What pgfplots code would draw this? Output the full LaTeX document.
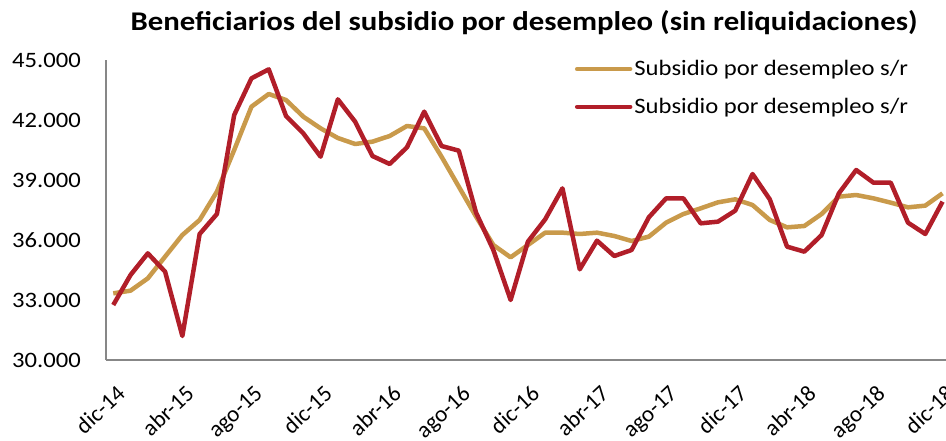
\documentclass[border=0pt]{standalone}
\usepackage{fontspec}
\setmainfont{Carlito}
\newfontfamily\stretched{Carlito}[FakeStretch=1.12]
\newfontfamily\titlefont{Carlito}[FakeStretch=1.14]
\usepackage{pgfplots}
\pgfplotsset{compat=1.18}
\usepackage{pgfplotstable}
\definecolor{goldline}{HTML}{C99A4B}
\definecolor{redline}{HTML}{B11E29}
\definecolor{axgray}{HTML}{878787}
\pgfplotstableread{
i v
0 33333
1 33467
2 34083
3 35167
4 36250
5 37000
6 38417
7 40500
8 42667
9 43300
10 43000
11 42167
12 41583
13 41100
14 40800
15 40917
16 41200
17 41700
18 41583
19 40167
20 38667
21 37167
22 35750
23 35133
24 35750
25 36367
26 36367
27 36300
28 36367
29 36200
30 35950
31 36167
32 36867
33 37300
34 37583
35 37883
36 38033
37 37750
38 37000
39 36633
40 36700
41 37300
42 38167
43 38250
44 38083
45 37867
46 37633
47 37717
48 38333
}\gold
\pgfplotstableread{
i v
0 32750
1 34250
2 35333
3 34417
4 31200
5 36300
6 37300
7 42250
8 44083
9 44533
10 42200
11 41333
12 40167
13 43033
14 41917
15 40200
16 39800
17 40633
18 42417
19 40700
20 40467
21 37367
22 35500
23 33000
24 35917
25 37033
26 38583
27 34533
28 35967
29 35200
30 35500
31 37133
32 38083
33 38083
34 36833
35 36917
36 37467
37 39300
38 38033
39 35667
40 35417
41 36250
42 38333
43 39500
44 38867
45 38867
46 36867
47 36300
48 37917
}\red
\begin{document}
\begin{tikzpicture}
\path[use as bounding box] (-106bp,-81bp) rectangle (840bp,360bp);
\begin{axis}[
  at={(0,0)}, anchor=south west,
  scale only axis,
  width=840bp, height=300bp,
  xmin=-0.42, xmax=48.2,
  ymin=30000, ymax=45000,
  ytick={30000,33000,...,45000},
  xtick={0,4,...,48},
  xticklabels={dic-14,abr-15,ago-15,dic-15,abr-16,ago-16,dic-16,abr-17,ago-17,dic-17,abr-18,ago-18,dic-18},
  scaled y ticks=false,
  yticklabel style={/pgf/number format/1000 sep={.},/pgf/number format/min exponent for 1000 sep=0,/pgf/number format/assume math mode=true},
  y tick label style={font=\stretched\fontsize{22bp}{26bp}\selectfont, inner sep=0pt, anchor=east, xshift=-25bp},
  xticklabel style={font=\fontsize{23bp}{27bp}\selectfont, rotate=43, anchor=north east, inner sep=0pt, xshift=3bp},
  xticklabel shift={26bp},
  major tick length=0pt,
  axis x line*=bottom, axis y line*=left,
  axis line style={axgray, line width=1.5bp, -},
  title={Beneficiarios del subsidio por desempleo (sin reliquidaciones)},
  title style={at={(0.4976,1)}, anchor=center, yshift=31bp, font=\titlefont\bfseries\fontsize{27bp}{30bp}\selectfont, inner sep=0pt},
  legend style={at={(0.558,1.005)}, anchor=north west, draw=none, fill=none, inner sep=0pt,
     font=\stretched\fontsize{22bp}{26bp}\selectfont, row sep=17bp,
     nodes={inner sep=2bp, anchor=west}},
  legend cell align=left,
  legend image code/.code={\draw[#1, line cap=round] (0bp,0bp) -- (53bp,0bp);},
  clip=false,
]
\addplot[goldline, line width=4.5bp, line join=round, no markers] table[x=i,y=v] {\gold};
\addlegendentry{Subsidio por desempleo s/r}
\addplot[redline, line width=4.5bp, line join=round, no markers] table[x=i,y=v] {\red};
\addlegendentry{Subsidio por desempleo s/r}
\end{axis}
\end{tikzpicture}
\end{document}
